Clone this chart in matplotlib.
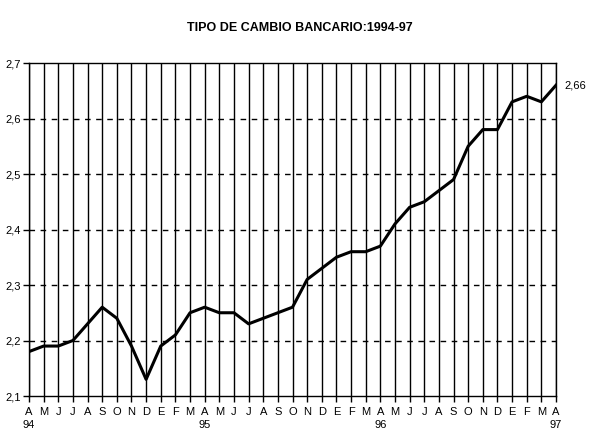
import matplotlib
matplotlib.use("Agg")
import matplotlib.pyplot as plt

# Datos: tipo de cambio bancario mensual, abril 1994 - abril 1997
meses = ["A", "M", "J", "J", "A", "S", "O", "N", "D",
         "E", "F", "M", "A", "M", "J", "J", "A", "S", "O", "N", "D",
         "E", "F", "M", "A", "M", "J", "J", "A", "S", "O", "N", "D",
         "E", "F", "M", "A"]
anios = {0: "94", 12: "95", 24: "96", 36: "97"}
tipo_cambio = [2.18, 2.19, 2.19, 2.20, 2.23, 2.26, 2.24, 2.19, 2.13,
               2.19, 2.21, 2.25, 2.26, 2.25, 2.25, 2.23, 2.24, 2.25, 2.26, 2.31, 2.33,
               2.35, 2.36, 2.36, 2.37, 2.41, 2.44, 2.45, 2.47, 2.49, 2.55, 2.58, 2.58,
               2.63, 2.64, 2.63, 2.66]
y_ticks = [2.1, 2.2, 2.3, 2.4, 2.5, 2.6, 2.7]

plt.rcParams["font.family"] = ["Liberation Sans", "DejaVu Sans"]

fig = plt.figure(figsize=(6, 4.38), dpi=100)
ax = fig.add_axes([29/600, 42/438, 527/600, 333/438])

x = list(range(len(tipo_cambio)))

# rejilla
for xi in x:
    ax.axvline(xi, color="black", lw=1, zorder=1)
for yv in y_ticks[1:-1]:
    ax.axhline(yv, color="black", lw=1, ls=(0, (4, 4)), zorder=1)

ax.plot(x, tipo_cambio, color="black", lw=2.2, zorder=3)

ax.set_xlim(0, len(x) - 1)
ax.set_ylim(2.1, 2.7)
ax.set_yticks(y_ticks)
ax.set_yticklabels([f"{v:.1f}".replace(".", ",") for v in y_ticks], fontsize=8)
ax.set_xticks(x)
ax.set_xticklabels(meses, fontsize=8)
ax.tick_params(axis="both", length=4, width=1, color="black", pad=2)
ax.tick_params(axis="x", pad=4)

for i, a in anios.items():
    ax.text(i, -0.088, a, transform=ax.get_xaxis_transform(), ha="center",
            va="center", fontsize=8)

for s in ax.spines.values():
    s.set_linewidth(1)
    s.set_color("black")

ult = tipo_cambio[-1]
ax.annotate(f"{ult:.2f}".replace(".", ","), (x[-1], ult), xytext=(6, 0),
            textcoords="offset points", va="center", ha="left", fontsize=8,
            annotation_clip=False)

fig.text(0.5, 1 - 28/438, "TIPO DE CAMBIO BANCARIO:1994-97", ha="center",
         va="center", fontsize=9, fontweight="bold")

fig.savefig("out.png", dpi=100)
